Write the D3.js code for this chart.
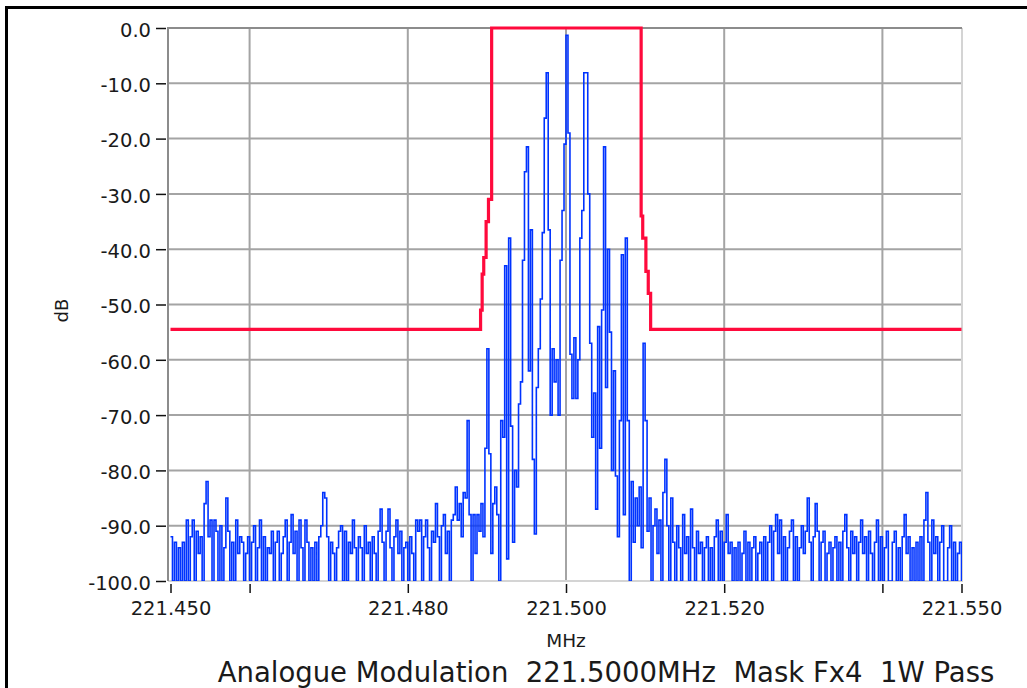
<!DOCTYPE html>
<html>
<head>
<meta charset="utf-8">
<script src="https://cdn.jsdelivr.net/npm/d3@7"></script>
<style>
  body { margin: 0; background: #fff; }
  svg text { font-family: "DejaVu Sans", Verdana, sans-serif; fill: #1a1a1a; }
</style>
</head>
<body>
<script>
// spectrum bins: 221.450 MHz upward, one value every 0.25 kHz (401 bins)
const freqStart = 221.45;
const freqStep = 0.00025;
const spectrumDb = [
  -92,-100,-93,-100,-94,-100,-93,-100,-89,-100,
  -92,-89,-100,-91,-95,-92,-100,-86,-82,-92,
  -89,-100,-89,-91,-100,-90,-100,-94,-85,-91,
  -100,-93,-100,-89,-95,-92,-93,-100,-95,-92,
  -100,-93,-90,-100,-94,-89,-100,-92,-100,-94,
  -95,
  -91,-100,-93,-91,-100,-95,-92,-89,-100,-93,
  -88,-95,-91,-100,-89,-94,-100,-89,-93,-100,
  -94,-100,-93,-100,-92,-90,-84,-85,-92,-100,
  -93,-95,-100,-94,-91,-90,-100,-91,-100,-93,
  -95,-89,-94,-100,-92,-94,-100,-90,-95,-93,
  -100,-92,-95,-100,-91,-87,-93,-100,-91,-87,
  -94,-100,-92,-89,-95,-91,-100,-94,-93,-100,
  -92,-95,-100,-89,-91,-89,-100,-92,-89,-94,
  -100,-91,-93,-86,-92,-100,-90,-88,-95,-91,
  -100,-89,-88,-83,-89,-86,-92,-84,-85,-71,
  -88,-100,-88,-95,-88,-91,-86,-92,-76,-58,
  -77,-95,-86,-83,-88,-100,-71,-74,-43,-96,
  -38,-72,-93,-80,-83,-68,-64,-42,-26,-21.5,
  -62,-36.5,-78,-91.5,-65,-58,-49,-37,-16.3,-8.1,
  -36.5,-70,-58,-64,-60,-70,-42,-33,-21,-1.3,
  -19,-59,-67,-56,-67,-60,-38,-33,-8.1,-8.1,
  -30,-57,-74,-66,-87,-54,-76,-51,-21.5,-65,
  -40,-55,-80,-62,-81,-92,-71,-41,-88,-38,
  -71,-100,-82,-93,-85,-90,-83,-94,-57,-71,
  -91,-85,-100,-90,-87,-95,-89,-100,-84,-78,
  -90,-100,-85,-93,-100,-90,-94,-100,-88,-95,
  -92,-100,-87,-94,-100,-91,-95,-93,-100,-94,
  -92,-100,-94,-100,-92,-89,-100,-91,-100,-93,
  -88,-95,-93,-100,-94,-100,-93,-100,-95,-91,
  -100,-93,-100,-94,-92,-100,-95,-93,-100,-92,
  -100,-93,-90,-100,-91,-88,-95,-89,-100,-92,
  -100,-94,-91,-89,-100,-92,-100,-94,-90,-95,
  -91,-85,-93,-100,-92,-86,-91,-100,-93,-91,
  -100,-95,-93,-100,-94,-92,-100,-93,-100,-91,
  -88,-94,-100,-91,-95,-92,-100,-93,-89,-95,
  -92,-100,-91,-95,-100,-93,-89,-100,-92,-100,
  -94,-91,-100,-100,-93,-91,-100,-94,-100,-92,
  -88,-95,-92,-100,-94,-100,-93,-100,-92,-100,
  -89,-84,-93,-100,-89,-95,-92,-100,-93,-90,
  -100,-100,-94,-90,-100,-93,-100,-95,-93,-100
];

// emission mask (red)
const maskFreq = [221.4500, 221.4892, 221.4892, 221.4894, 221.4894, 221.4896, 221.4896,
  221.4899, 221.4899, 221.4902, 221.4902, 221.4906, 221.4906, 221.5095, 221.5095,
  221.5097, 221.5097, 221.5101, 221.5101, 221.5104, 221.5104, 221.5107, 221.5107, 221.5500];
const maskDb = [-54.5, -54.5, -51, -51, -44.5, -44.5, -41.5, -41.5, -35, -35, -31, -31, 0,
  0, -34, -34, -38, -38, -44, -44, -48, -48, -54.5, -54.5];

const yTicks = [0, -10, -20, -30, -40, -50, -60, -70, -80, -90, -100];
const xTicks = [221.45, 221.46, 221.48, 221.50, 221.52, 221.54, 221.55];
const xTickLabels = ["221.450", "", "221.480", "221.500", "221.520", "", "221.550"];
const xGrid = [221.46, 221.48, 221.50, 221.52, 221.54];
const titleText = "Analogue Modulation  221.5000MHz  Mask Fx4  1W Pass";

let width = 1027, height = 688;
let plot = {left: 168, right: 962, top: 28, bottom: 581};

const svg = d3.select("body")
  .append("svg")
  .attr("width", width)
  .attr("height", height);

const x = d3.scaleLinear()
  .domain([221.45, 221.55])
  .range([170.5, 961.5]);

const y = d3.scaleLinear()
  .domain([-100, 0])
  .range([plot.bottom, plot.top]);

// outer black frame (top + left)
svg.append("path")
  .attr("d", `M6.5,${height} V7.5 H${width}`)
  .attr("fill", "none")
  .attr("stroke", "#000")
  .attr("stroke-width", 3);

// grid
svg.append("g")
  .selectAll("line")
  .data(yTicks.slice(1, -1))
  .join("line")
  .attr("x1", plot.left).attr("x2", plot.right)
  .attr("y1", d => y(d)).attr("y2", d => y(d))
  .attr("stroke", "#a4a4a4")
  .attr("stroke-width", 2);

svg.append("g")
  .selectAll("line")
  .data(xGrid)
  .join("line")
  .attr("x1", d => x(d)).attr("x2", d => x(d))
  .attr("y1", plot.top).attr("y2", plot.bottom)
  .attr("stroke", "#a4a4a4")
  .attr("stroke-width", 2);

// plot frame
svg.append("path")
  .attr("d", `M${plot.left},${plot.bottom} H${plot.right} V${plot.top}`)
  .attr("fill", "none")
  .attr("stroke", "#d4d4d4")
  .attr("stroke-width", 2);
svg.append("path")
  .attr("d", `M${plot.left},${plot.bottom} V${plot.top} H${plot.right}`)
  .attr("fill", "none")
  .attr("stroke", "#8c8c8c")
  .attr("stroke-width", 2);

svg.append("clipPath")
  .attr("id", "clip")
  .append("rect")
  .attr("x", plot.left).attr("y", plot.top - 2)
  .attr("width", plot.right - plot.left)
  .attr("height", plot.bottom - plot.top + 2);

// spectrum trace, drawn as steps like the analyser does
svg.append("path")
  .datum(spectrumDb)
  .attr("clip-path", "url(#clip)")
  .attr("fill", "none")
  .attr("stroke", "#0033ff")
  .attr("stroke-width", 1.6)
  .attr("d", d3.line()
    .curve(d3.curveStepAfter)
    .x((d, i) => x(freqStart + i * freqStep))
    .y(d => y(d))
  );

// mask
svg.append("path")
  .datum(maskDb)
  .attr("fill", "none")
  .attr("stroke", "#ff0a3c")
  .attr("stroke-width", 3.2)
  .attr("d", d3.line()
    .x((d, i) => x(maskFreq[i]))
    .y(d => y(d))
  );

// axes
const yAxis = svg.append("g")
  .attr("transform", `translate(${plot.left - 2},0)`)
  .call(d3.axisLeft(y)
    .tickValues(yTicks)
    .tickFormat(d => d.toFixed(1))
    .tickSize(10)
    .tickPadding(5));

const xAxis = svg.append("g")
  .attr("transform", `translate(0,${plot.bottom + 3})`)
  .call(d3.axisBottom(x)
    .tickValues(xTicks)
    .tickFormat((d, i) => xTickLabels[i])
    .tickSize(9)
    .tickPadding(8));

[yAxis, xAxis].forEach(a => {
  a.select(".domain").remove();
  a.selectAll(".tick line").attr("stroke", "#111").attr("stroke-width", 1.5);
  a.selectAll(".tick text")
    .attr("fill", "#1a1a1a")
    .style("font-size", "19.5px")
    .style("font-family", "'DejaVu Sans', Verdana, sans-serif");
});
yAxis.selectAll(".tick text").attr("dy", "0.42em");

// labels
svg.append("text")
  .attr("transform", `translate(68,${(plot.top + plot.bottom) / 2 + 6}) rotate(-90)`)
  .attr("text-anchor", "middle")
  .style("font-size", "18px")
  .text("dB");

svg.append("text")
  .attr("x", x(221.5))
  .attr("y", 647)
  .attr("text-anchor", "middle")
  .style("font-size", "18.5px")
  .text("MHz");

svg.append("text")
  .attr("x", 606)
  .attr("y", 682)
  .attr("text-anchor", "middle")
  .style("font-size", "27.5px")
  .style("white-space", "pre")
  .text(titleText);
</script>
</body>
</html>
